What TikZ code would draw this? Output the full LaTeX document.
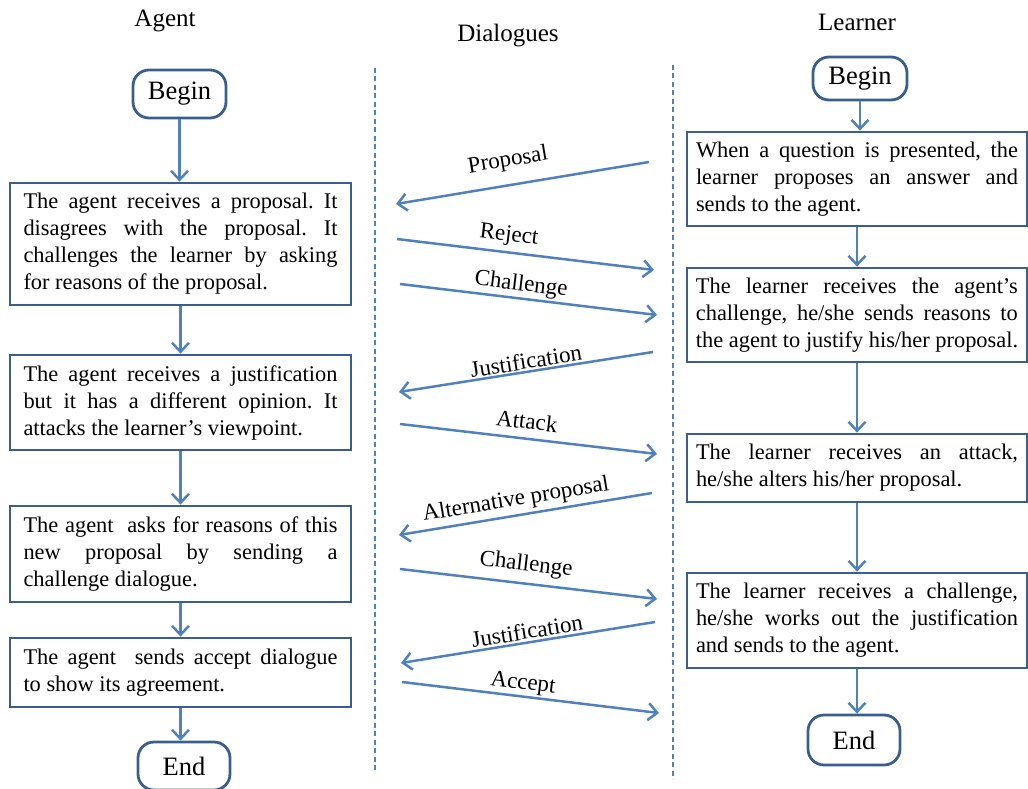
\documentclass[tikz,border=0pt]{standalone}
\usepackage{fontspec}
\setmainfont{Liberation Serif}
\usetikzlibrary{arrows.meta}
\definecolor{boxblue}{HTML}{3A5F8E}
\definecolor{linkblue}{HTML}{4F81BD}
\newcommand{\jrow}[2]{\makebox[#1][s]{#2}}
\frenchspacing
\begin{document}
\begin{tikzpicture}[x=1pt,y=-1pt,
 stepbox/.style={draw=boxblue, line width=2.8pt, minimum width=341pt, align=left, inner xsep=0pt, font=\fontsize{22.4}{27}\selectfont},
 term/.style={draw=boxblue, line width=2.8pt, rounded corners=16pt, font=\fontsize{26.5}{30}\selectfont},
 flow/.style={draw=linkblue, line width=2.5pt, -{Straight Barb[length=9pt,width=17pt]}},
 msglabel/.style={font=\fontsize{23}{26}\selectfont, inner sep=0pt},
 head/.style={font=\fontsize{25}{30}\selectfont},
 lane/.style={draw=linkblue, line width=1.3pt, dash pattern=on 5pt off 3.5pt}]
\useasboundingbox (0,0) rectangle (1028,789);

% headings
\node[head] (hagent) at (165,21) {Agent};
\node[head] (hdial) at (508,36) {Dialogues};
\node[head] (hlearn) at (857,22) {Learner};

% lanes
\coordinate (lane1t) at (375,68);
\coordinate (lane1b) at (375,772);
\coordinate (lane2t) at (673,65);
\coordinate (lane2b) at (673,779);
\draw[lane] (lane1t) -- (lane1b);
\draw[lane] (lane2t) -- (lane2b);

% agent column
\node[term, minimum width=93pt, minimum height=48pt] (abegin) at (179.5,94) {Begin};
\node[stepbox, minimum height=122pt] (a1) at (180.5,244) {%
\jrow{314pt}{The agent receives a proposal. It}\\
\jrow{314pt}{disagrees with the proposal. It}\\
\jrow{314pt}{challenges the learner by asking}\\
for reasons of the proposal.};
\node[stepbox, minimum height=95pt] (a2) at (180.5,402.5) {%
\jrow{314pt}{The agent receives a justification}\\
\jrow{314pt}{but it has a different opinion. It}\\
attacks the learner’s viewpoint.};
\node[stepbox, minimum height=96pt] (a3) at (180.5,554) {%
\jrow{314pt}{The agent \ asks for reasons of this}\\
\jrow{314pt}{new proposal by sending a}\\
challenge dialogue.};
\node[stepbox, minimum height=69pt] (a4) at (180.5,672.5) {%
\jrow{314pt}{The agent \ sends accept dialogue}\\
to show its agreement.};
\node[term, minimum width=92pt, minimum height=48pt] (aend) at (184,766) {End};

\draw[flow] (abegin.south) -- (abegin.south |- a1.north);
\draw[flow] (a1.south) -- (a1.south |- a2.north);
\draw[flow] (a2.south) -- (a2.south |- a3.north);
\draw[flow] (a3.south) -- (a3.south |- a4.north);
\draw[flow] (a4.south) -- (a4.south |- aend.north);

% learner column
\node[term, minimum width=94pt, minimum height=43pt] (lbegin) at (860,78.5) {Begin};
\node[stepbox, minimum width=340pt, minimum height=94pt] (l1) at (857,179) {%
\jrow{322pt}{When a question is presented, the}\\
\jrow{322pt}{learner proposes an answer and}\\
sends to the agent.};
\node[stepbox, minimum width=340pt, minimum height=94pt] (l2) at (857,315) {%
\jrow{322pt}{The learner receives the agent’s}\\
\jrow{322pt}{challenge, he/she sends reasons to}\\
the agent to justify his/her proposal.};
\node[stepbox, minimum width=340pt, minimum height=68pt] (l3) at (857,468) {%
\jrow{322pt}{The learner receives an attack,}\\
he/she alters his/her proposal.};
\node[stepbox, minimum width=340pt, minimum height=95pt] (l4) at (857,620.5) {%
\jrow{322pt}{The learner receives a challenge,}\\
\jrow{322pt}{he/she works out the justification}\\
and sends to the agent.};
\node[term, minimum width=92pt, minimum height=50pt] (lend) at (854,740) {End};

\draw[flow] (lbegin.south) -- (lbegin.south |- l1.north);
\draw[flow] (l1.south) -- (l1.south |- l2.north);
\draw[flow] (l2.south) -- (l2.south |- l3.north);
\draw[flow] (l3.south) -- (l3.south |- l4.north);
\draw[flow] (l4.south) -- (l4.south |- lend.north);

% dialogue messages
\coordinate (m1s) at (649,162); \coordinate (m1e) at (396,204);
\coordinate (m2s) at (397,239); \coordinate (m2e) at (654,270);
\coordinate (m3s) at (400,284); \coordinate (m3e) at (657,315);
\coordinate (m4s) at (653,352); \coordinate (m4e) at (399,392);
\coordinate (m5s) at (400,424); \coordinate (m5e) at (657,454);
\coordinate (m6s) at (652,493); \coordinate (m6e) at (399,535);
\coordinate (m7s) at (400,569); \coordinate (m7e) at (657,599);
\coordinate (m8s) at (655,622); \coordinate (m8e) at (401,663);
\coordinate (m9s) at (402,682); \coordinate (m9e) at (659,713);
\foreach \i in {1,...,9} {\draw[flow] (m\i s) -- (m\i e);}

\node[msglabel, rotate=9.4] (t1) at (508,161) {Proposal};
\node[msglabel, rotate=-6.9] (t2) at (509,236) {Reject};
\node[msglabel, rotate=-6.9] (t3) at (521,285) {Challenge};
\node[msglabel, rotate=8.9] (t4) at (526,361) {Justification};
\node[msglabel, rotate=-6.7] (t5) at (527,421) {Attack};
\node[msglabel, rotate=9.4] (t6) at (516,500) {Alternative proposal};
\node[msglabel, rotate=-6.7] (t7) at (526,565) {Challenge};
\node[msglabel, rotate=9.2] (t8) at (527,631) {Justification};
\node[msglabel, rotate=-6.9] (t9) at (523,684) {Accept};
\end{tikzpicture}
\end{document}
